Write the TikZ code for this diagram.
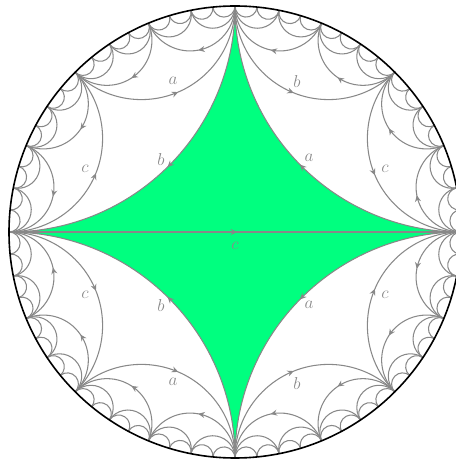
\documentclass[tikz,border=0pt]{standalone}
\usepackage{xcolor}
\usetikzlibrary{arrows.meta,decorations.markings}
\definecolor{cFace}{HTML}{00ff7f}
\definecolor{cEdge}{HTML}{888888}
\definecolor{cLab} {HTML}{8a8a8a}
\newcommand{\rdisk}{226bp}
\tikzset{
  >={Stealth[length=6.5bp,width=6bp,inset=2.2bp]},
  sarc/.style={cEdge,line width=1.05bp},
  smid/.style={postaction={decorate,decoration={markings,mark=at position 0.505 with {\arrow{>}}}}},
  slab/.style={cLab,font=\fontsize{16}{16}\selectfont,inner sep=0pt},
}
\begin{document}
\begin{tikzpicture}[x=1bp,y=1bp]
  \clip (-235,-229) rectangle (221,232);
  \fill[cFace] (0:\rdisk) arc[start angle=-90,end angle=-180,radius=\rdisk]
    arc[start angle=0,end angle=-90,radius=\rdisk]
    arc[start angle=90,end angle=0,radius=\rdisk]
    arc[start angle=180,end angle=90,radius=\rdisk] -- cycle;
  \draw[sarc,smid] (180:\rdisk) -- (0:\rdisk);
  \foreach \p/\q in {0/90,90/180,270/180,360/270,
      90/45,45/0,135/90,180/135,180/225,225/270,270/315,315/360,
      67.5/90,45/67.5,22.5/45,0/22.5,90/112.5,112.5/135,135/157.5,157.5/180,
      202.5/180,225/202.5,247.5/225,270/247.5,292.5/270,315/292.5,337.5/315,360/337.5}{
    \pgfmathsetmacro\sg{ifthenelse(\q>\p,1,-1)}
    \draw[sarc,smid] (\p:\rdisk) arc[start angle=\p-90*\sg,end angle=\q-270*\sg,
      radius={\rdisk*abs(tan((\q-\p)/2))}];
  }
  \foreach \st/\n in {11.25/31,5.625/63}{
    \foreach \k in {0,...,\n}{
      \pgfmathsetmacro\p{\k*\st}
      \draw[sarc] (\p:\rdisk) arc[start angle=\p-90,end angle=\p+\st-270,
        radius={\rdisk*tan(\st/2)}];
    }
  }
  \draw[black,line width=1.6bp] (0,0) circle[radius=\rdisk];
  \node[slab] (a1) at (-62,151) {$a$};
  \node[slab] (a2) at (74,74) {$a$};
  \node[slab] (a3) at (74,-73) {$a$};
  \node[slab] (a4) at (-62,-150) {$a$};
  \node[slab] (b1) at (62,150) {$b$};
  \node[slab] (b2) at (-74,72) {$b$};
  \node[slab] (b3) at (-74,-74) {$b$};
  \node[slab] (b4) at (62,-152) {$b$};
  \node[slab] (c1) at (-150,63.5) {$c$};
  \node[slab] (c2) at (150,63.5) {$c$};
  \node[slab] (c3) at (-150,-62.5) {$c$};
  \node[slab] (c4) at (150,-62.5) {$c$};
  \node[slab] (c5) at (0,-13.5) {$c$};
\end{tikzpicture}
\end{document}
